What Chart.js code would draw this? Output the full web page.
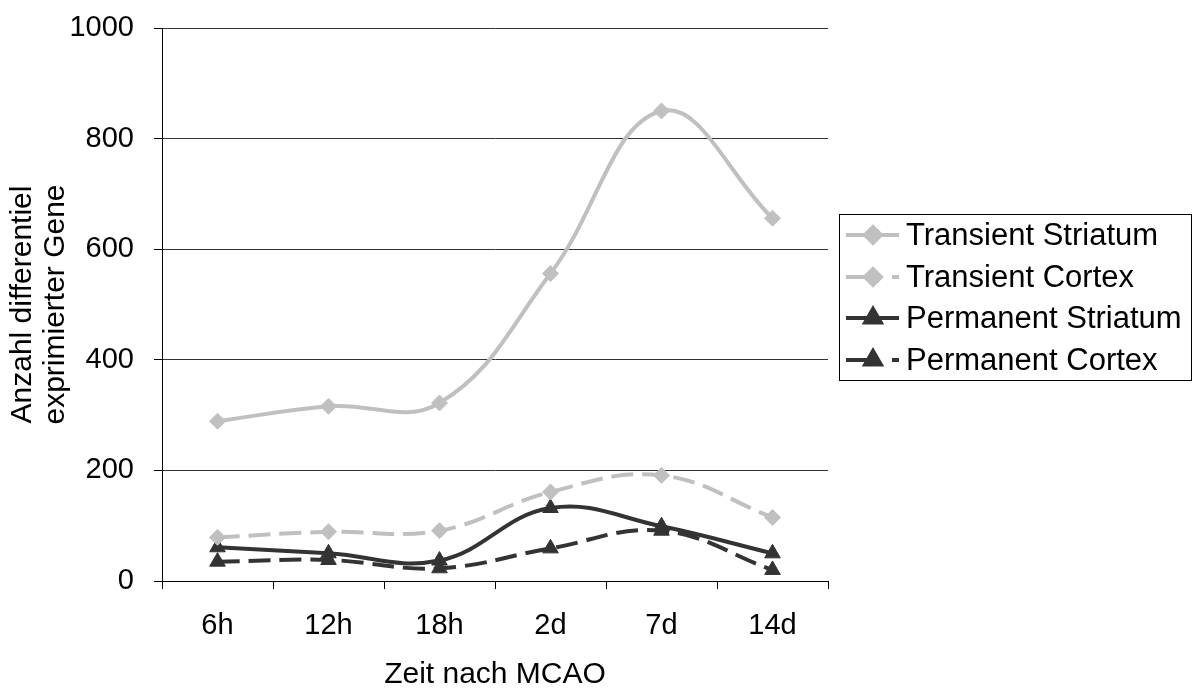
<!DOCTYPE html>
<html lang="de">
<head>
  <meta charset="UTF-8" />
  <title>Differentiell exprimierte Gene nach MCAO</title>
  <script src="https://cdn.jsdelivr.net/npm/chart.js"></script>
  <style>
    html, body { margin: 0; padding: 0; background: #fff; }
    #wrap { width: 1194px; height: 690px; }
  </style>
</head>
<body>
  <div id="wrap"><canvas id="chart" width="1194" height="690"></canvas></div>

  <script>
    // Daten
    const zeitpunkte = ['6h', '12h', '18h', '2d', '7d', '14d'];
    const transientStriatum = [289, 316, 322, 556, 850, 656];
    const transientCortex = [79, 89, 91, 161, 191, 115];
    const permanentStriatum = [61, 50, 37, 132, 99, 50];
    const permanentCortex = [35, 38, 23, 59, 91, 20];
    const serienNamen = ['Transient Striatum', 'Transient Cortex', 'Permanent Striatum', 'Permanent Cortex'];
    const yTicks = [0, 200, 400, 600, 800, 1000];

    const HELL = '#c0c0c0';
    const DUNKEL = '#333333';
    const STRICH = [22, 9];
    const FONT = 'Arial, "Liberation Sans", sans-serif';

    function serie(label, data, farbe, style, dash, radius) {
      return {
        label,
        data,
        borderColor: farbe,
        backgroundColor: farbe,
        borderWidth: 4,
        borderDash: dash,
        tension: 0.4,
        pointStyle: style,
        pointRadius: radius,
        pointHoverRadius: radius,
        pointBorderWidth: 1,
        pointBorderColor: farbe,
        pointBackgroundColor: farbe,
        clip: false
      };
    }

    // Legende mit Rahmen wie im Original
    const legendePlugin = {
      id: 'legendeBox',
      afterDraw(chart) {
        const ctx = chart.ctx;
        ctx.save();
        ctx.strokeStyle = '#000';
        ctx.lineWidth = 1;
        ctx.strokeRect(839.5, 214.5, 352, 166);
        const zeilen = [235, 277, 318, 360];
        chart.data.datasets.forEach((ds, i) => {
          const y = zeilen[i];
          ctx.save();
          ctx.strokeStyle = ds.borderColor;
          ctx.lineWidth = 4;
          ctx.setLineDash(ds.borderDash.length ? [22, 24] : []);
          ctx.beginPath();
          ctx.moveTo(846, y);
          ctx.lineTo(899, y);
          ctx.stroke();
          ctx.setLineDash([]);
          ctx.fillStyle = ds.backgroundColor;
          ctx.strokeStyle = ds.borderColor;
          Chart.helpers.drawPoint(ctx, { pointStyle: ds.pointStyle, radius: ds.pointRadius, rotation: 0, borderWidth: 1 }, 873, y);
          ctx.restore();
          ctx.fillStyle = '#000';
          ctx.font = '31px ' + FONT;
          ctx.textAlign = 'left';
          ctx.textBaseline = 'middle';
          ctx.fillText(ds.label, 906, y + 1);
        });
        ctx.restore();
      }
    };

    new Chart(document.getElementById('chart'), {
      type: 'line',
      data: {
        labels: zeitpunkte,
        datasets: [
          serie(serienNamen[0], transientStriatum, HELL, 'rectRot', [], 8),
          serie(serienNamen[1], transientCortex, HELL, 'rectRot', STRICH, 8),
          serie(serienNamen[2], permanentStriatum, DUNKEL, 'triangle', [], 9),
          serie(serienNamen[3], permanentCortex, DUNKEL, 'triangle', STRICH, 9)
        ]
      },
      options: {
        responsive: false,
        animation: false,
        layout: { padding: { top: 28, right: 366, bottom: 0, left: 0 } },
        plugins: {
          legend: { display: false },
          tooltip: { enabled: false }
        },
        scales: {
          x: {
            offset: true,
            grid: {
              display: true,
              offset: true,
              drawOnChartArea: false,
              tickLength: 8,
              tickColor: '#000',
              color: '#000'
            },
            border: { color: '#000', width: 1 },
            ticks: {
              color: '#000',
              padding: 20,
              font: { family: FONT, size: 29, lineHeight: 1.2 }
            },
            title: {
              display: true,
              text: 'Zeit nach MCAO',
              color: '#000',
              padding: { top: 0, bottom: 0 },
              font: { family: FONT, size: 30, lineHeight: 1 }
            },
            afterFit(scale) {
              scale.height = 109;
              scale.paddingLeft = 0;
              scale.paddingRight = 0;
            }
          },
          y: {
            min: 0,
            max: 1000,
            afterBuildTicks(scale) { scale.ticks = yTicks.map(v => ({ value: v })); },
            grid: {
              color: '#333',
              lineWidth: 1,
              tickLength: 8,
              tickColor: '#000'
            },
            border: { color: '#000', width: 1 },
            ticks: {
              color: '#000',
              padding: 20,
              callback: v => String(v),
              font: { family: FONT, size: 29 }
            },
            title: {
              display: true,
              text: ['Anzahl differentiel', 'exprimierter Gene'],
              color: '#000',
              padding: { top: 6, bottom: 0 },
              font: { family: FONT, size: 30, lineHeight: 1.1 }
            },
            afterFit(scale) {
              scale.width = 162;
              scale.paddingTop = 0;
              scale.paddingBottom = 0;
            }
          }
        }
      },
      plugins: [legendePlugin]
    });
  </script>
</body>
</html>
